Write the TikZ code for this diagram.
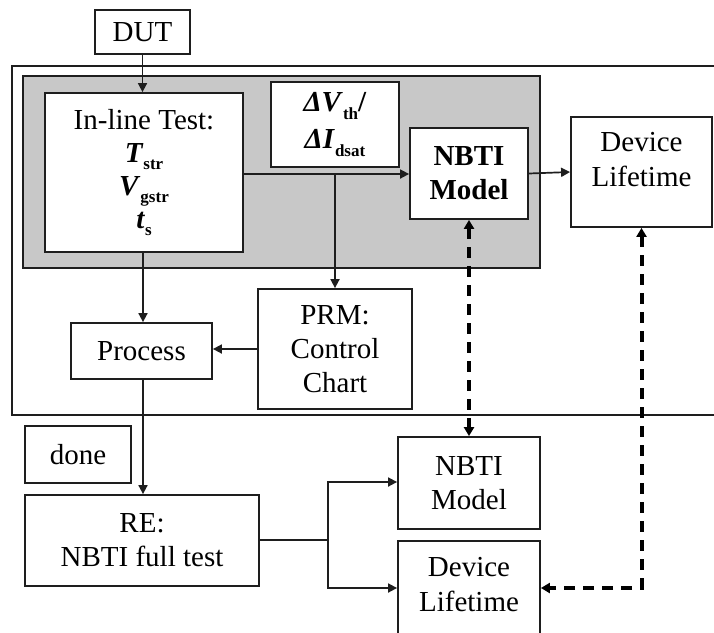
\documentclass[tikz,border=0pt]{standalone}
\usepackage{fontspec}
\setmainfont{Liberation Serif}
\usetikzlibrary{arrows.meta}
\definecolor{panel}{RGB}{200,200,200}
\definecolor{edge}{RGB}{30,30,30}
\newcommand{\sbx}[1]{\raisebox{-0.25em}{\fontsize{17}{17}\selectfont\textbf{#1}}}
\begin{document}
\begin{tikzpicture}[x=1pt,y=-1pt,
  box/.style={draw=edge, line width=1.8pt, fill=white, inner sep=0pt, align=center,
    font=\fontsize{29}{34}\selectfont},
  txt/.style={inner sep=0pt, align=center, font=\fontsize{29}{35}\selectfont},
  arr/.style={draw=edge, line width=1.7pt, -{Triangle[length=9pt,width=9pt]}},
  ln/.style={draw=edge, line width=1.7pt},
  dsh/.style={draw=black, line width=4pt, dash pattern=on 11pt off 8pt,
    {Triangle[length=9pt,width=10pt]}-{Triangle[length=9pt,width=10pt]}}]
\useasboundingbox (0,0) rectangle (714,632);
\clip (0,0) rectangle (714,632);
\fill[white] (0,0) rectangle (714,632);
% outer frame (open at the right edge)
\draw[ln] (730,66) -- (12,66) -- (12,415) -- (730,415);
% gray panel
\draw[ln, fill=panel, line width=1.8pt] (23,76) rectangle (540,268);
% nodes
\node[box, minimum width=95pt, minimum height=44pt] (dut) at (142.5,32) {DUT};
\node[box, minimum width=198pt, minimum height=159pt, font=\fontsize{29}{33}\selectfont] (inline) at (144,172.5)
  {In-line Test:\\ \textbf{\textit{T}}\sbx{str}\\ \textbf{\textit{V}}\sbx{gstr}\\ \textbf{\textit{t}}\sbx{s}};
\node[box, minimum width=128pt, minimum height=85pt, font=\fontsize{29}{37}\selectfont] (dv) at (335,124.5)
  {\textbf{\textit{ΔV}}\sbx{th}\textbf{/}\\ \textbf{\textit{ΔI}}\sbx{dsat}};
\node[box, minimum width=118pt, minimum height=91pt] (nbti1) at (469,173.5) {\textbf{NBTI}\\\textbf{Model}};
\node[box, minimum width=141pt, minimum height=110pt] (life1) at (641.5,172) {};
\node[txt] (life1t) at (641.5,160) {Device\\Lifetime};
\node[box, minimum width=154pt, minimum height=120pt] (prm) at (335,349) {PRM:\\Control\\Chart};
\node[box, minimum width=141pt, minimum height=56pt] (process) at (141.5,351) {Process};
\node[box, minimum width=106pt, minimum height=57pt] (done) at (78,454.5) {done};
\node[box, minimum width=234pt, minimum height=91pt] (re) at (142,540.5) {RE:\\NBTI full test};
\node[box, minimum width=142pt, minimum height=92pt] (nbti2) at (469,483) {NBTI\\Model};
\node[box, minimum width=142pt, minimum height=110pt, anchor=north] (life2) at (469,540) {};
\node[txt] (life2t) at (469,585) {Device\\Lifetime};
% junctions
\coordinate (j1) at (335,174);
\coordinate (j2) at (328,540);
% connectors
\draw[arr] (dut.south) -- (dut.south |- inline.north);
\draw[arr] (inline.east |- j1) -- (nbti1.west |- j1);
\draw[arr] (j1) -- (prm.north);
\draw[arr] (nbti1.east) -- (life1.west);
\draw[arr] (inline.south -| 143,0) -- (process.north -| 143,0);
\draw[arr] (prm.west) -- (process.east |- prm.west);
\draw[arr] (process.south -| 143,0) -- (re.north -| 143,0);
\draw[ln] (re.east |- j2) -- (j2);
\draw[arr] (j2) -- (328,482) -- (nbti2.west |- 0,482);
\draw[arr] (j2) -- (328,588) -- (life2.west |- 0,588);
% dashed links
\draw[dsh] (nbti1.south) -- (nbti2.north);
\draw[dsh] (life1.south) -- (life1.south |- 0,588) -- (life2.east |- 0,588);
\end{tikzpicture}
\end{document}
